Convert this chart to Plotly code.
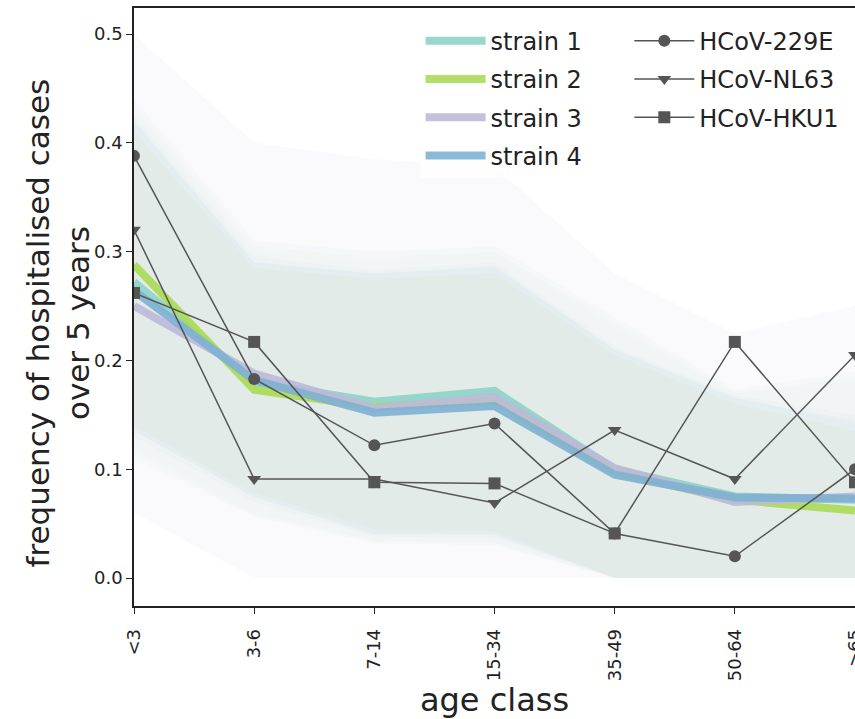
import plotly.graph_objects as go

ages = ["<3", "3-6", "7-14", "15-34", "35-49", "50-64", ">65"]

strain_names = ["strain 1", "strain 2", "strain 3", "strain 4"]
strain1 = [0.272, 0.180, 0.162, 0.172, 0.100, 0.075, 0.072]
strain2 = [0.288, 0.173, 0.157, 0.163, 0.097, 0.072, 0.062]
strain3 = [0.250, 0.188, 0.156, 0.166, 0.101, 0.070, 0.075]
strain4 = [0.264, 0.182, 0.152, 0.158, 0.095, 0.074, 0.073]

# inner uncertainty bands
inner1_lo = [0.136, 0.075, 0.041, 0.040, 0.0, 0.0, 0.0]
inner1_hi = [0.420, 0.290, 0.280, 0.285, 0.210, 0.166, 0.142]
inner2_lo = [0.140, 0.078, 0.045, 0.043, 0.0, 0.0, 0.0]
inner2_hi = [0.410, 0.285, 0.275, 0.280, 0.205, 0.160, 0.135]
inner3_lo = [0.130, 0.070, 0.038, 0.037, 0.0, 0.0, 0.0]
inner3_hi = [0.425, 0.295, 0.283, 0.290, 0.213, 0.168, 0.150]
inner4_lo = [0.135, 0.074, 0.040, 0.040, 0.0, 0.0, 0.0]
inner4_hi = [0.420, 0.290, 0.280, 0.287, 0.210, 0.165, 0.145]

# outer uncertainty bands
outer1_lo = [0.120, 0.060, 0.035, 0.033, 0.0, 0.0, 0.0]
outer1_hi = [0.430, 0.300, 0.290, 0.300, 0.230, 0.170, 0.180]
outer2_lo = [0.115, 0.058, 0.034, 0.032, 0.0, 0.0, 0.0]
outer2_hi = [0.435, 0.305, 0.295, 0.300, 0.235, 0.170, 0.185]
outer3_lo = [0.060, 0.0, 0.0, 0.0, 0.0, 0.0, 0.0]
outer3_hi = [0.500, 0.400, 0.385, 0.378, 0.280, 0.225, 0.250]
outer4_lo = [0.111, 0.056, 0.032, 0.030, 0.0, 0.0, 0.0]
outer4_hi = [0.440, 0.310, 0.300, 0.305, 0.240, 0.173, 0.190]

virus_names = ["HCoV-229E", "HCoV-NL63", "HCoV-HKU1"]
hcov_229e = [0.388, 0.183, 0.122, 0.142, 0.041, 0.020, 0.100]
hcov_nl63 = [0.320, 0.091, 0.091, 0.069, 0.136, 0.091, 0.205]
hcov_hku1 = [0.262, 0.217, 0.088, 0.087, 0.041, 0.217, 0.088]

strain_rgb = [(141, 211, 199), (170, 220, 85), (190, 186, 218), (128, 177, 211)]
strains = [strain1, strain2, strain3, strain4]
inners = [(inner1_lo, inner1_hi), (inner2_lo, inner2_hi), (inner3_lo, inner3_hi), (inner4_lo, inner4_hi)]
outers = [(outer1_lo, outer1_hi), (outer2_lo, outer2_hi), (outer3_lo, outer3_hi), (outer4_lo, outer4_hi)]
outer_alpha = [0.025, 0.025, 0.07, 0.035]
inner_alpha = 0.045

fig = go.Figure()

def band(lo, hi, rgb, a):
    fig.add_trace(go.Scatter(x=ages, y=lo, mode="lines", line=dict(width=0),
                             showlegend=False, hoverinfo="skip"))
    fig.add_trace(go.Scatter(x=ages, y=hi, mode="lines", line=dict(width=0),
                             fill="tonexty",
                             fillcolor="rgba(%d,%d,%d,%.3f)" % (rgb + (a,)),
                             showlegend=False, hoverinfo="skip"))

for i in range(4):
    band(outers[i][0], outers[i][1], strain_rgb[i], outer_alpha[i])
for i in range(4):
    band(inners[i][0], inners[i][1], strain_rgb[i], inner_alpha)

for i in range(4):
    fig.add_trace(go.Scatter(x=ages, y=strains[i], mode="lines", name=strain_names[i],
                             line=dict(width=8, color="rgb(%d,%d,%d)" % strain_rgb[i]),
                             opacity=0.9, legend="legend", legendgroup="s%d" % i))

symbols = ["circle", "triangle-down", "square"]
for name, vals, sym in zip(virus_names, [hcov_229e, hcov_nl63, hcov_hku1], symbols):
    fig.add_trace(go.Scatter(x=ages, y=vals, mode="lines+markers", name=name,
                             line=dict(width=1.5, color="#555555"),
                             marker=dict(symbol=sym, size=12, color="#555555"),
                             legend="legend2", legendgroup=name))

font = "DejaVu Sans"
fig.update_layout(
    width=855, height=719,
    margin=dict(l=134, r=0, t=8, b=113),
    plot_bgcolor="white", paper_bgcolor="white",
    font=dict(family=font, color="#222222"),
    legend=dict(x=0.3975, y=0.982, xanchor="left", yanchor="top",
                bgcolor="rgba(255,255,255,0.8)", font=dict(size=24, family=font, color="#222"),
                tracegroupgap=4, itemwidth=60),
    legend2=dict(x=0.687, y=0.982, xanchor="left", yanchor="top",
                 bgcolor="rgba(255,255,255,0.8)", font=dict(size=24, family=font, color="#222"),
                 tracegroupgap=4, itemwidth=60),
    annotations=[dict(text="frequency of hospitalised cases<br>over 5 years",
                      xref="paper", yref="paper", x=-0.105, y=0.473,
                      xanchor="center", yanchor="middle", textangle=-90, showarrow=False,
                      font=dict(size=31, family=font, color="#222"))],
)
fig.update_xaxes(type="category", range=[0, 6], showline=True, linecolor="#222222", linewidth=1.5,
                 mirror=True, ticks="outside", ticklen=6, tickcolor="#222222", tickangle=-90,
                 ticklabelstandoff=8,
                 tickfont=dict(size=18, family=font, color="#222"), showgrid=False, zeroline=False,
                 title=dict(text="age class", font=dict(size=32, family=font, color="#222"), standoff=16),
                 automargin=False)
fig.update_yaxes(range=[-0.0257, 0.5239], showline=True, linecolor="#222222", linewidth=1.5,
                 ticks="outside", ticklen=6, tickcolor="#222222",
                 tickvals=[0.0, 0.1, 0.2, 0.3, 0.4, 0.5], ticktext=["0.0", "0.1", "0.2", "0.3", "0.4", "0.5"],
                 tickfont=dict(size=18, family=font, color="#222"), showgrid=False, zeroline=False,
                 automargin=False)

fig.write_html("out.html")
